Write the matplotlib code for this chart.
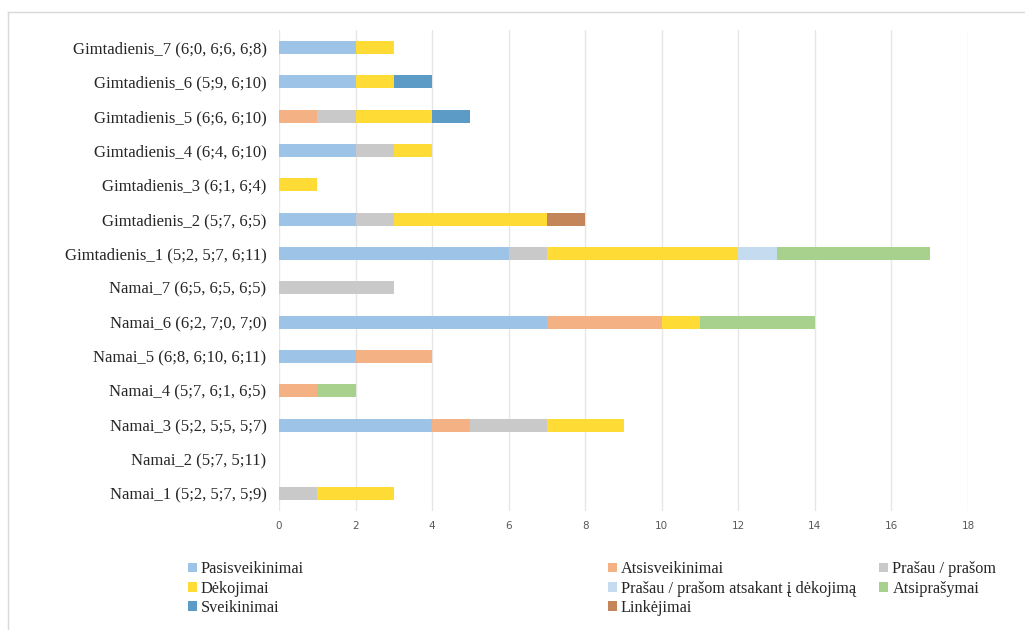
import numpy as np
import matplotlib
matplotlib.use("Agg")
import matplotlib.pyplot as plt
from matplotlib.lines import Line2D

categories = [
    "Namai_1 (5;2, 5;7, 5;9)",
    "Namai_2 (5;7, 5;11)",
    "Namai_3 (5;2, 5;5, 5;7)",
    "Namai_4 (5;7, 6;1, 6;5)",
    "Namai_5 (6;8, 6;10, 6;11)",
    "Namai_6 (6;2, 7;0, 7;0)",
    "Namai_7 (6;5, 6;5, 6;5)",
    "Gimtadienis_1 (5;2, 5;7, 6;11)",
    "Gimtadienis_2 (5;7, 6;5)",
    "Gimtadienis_3 (6;1, 6;4)",
    "Gimtadienis_4 (6;4, 6;10)",
    "Gimtadienis_5 (6;6, 6;10)",
    "Gimtadienis_6 (5;9, 6;10)",
    "Gimtadienis_7 (6;0, 6;6, 6;8)",
]

pasisveikinimai = [0, 0, 4, 0, 2, 7, 0, 6, 2, 0, 2, 0, 2, 2]
atsisveikinimai = [0, 0, 1, 1, 2, 3, 0, 0, 0, 0, 0, 1, 0, 0]
prasau = [1, 0, 2, 0, 0, 0, 3, 1, 1, 0, 1, 1, 0, 0]
dekojimai = [2, 0, 2, 0, 0, 1, 0, 5, 4, 1, 1, 2, 1, 1]
prasau_atsakant = [0, 0, 0, 0, 0, 0, 0, 1, 0, 0, 0, 0, 0, 0]
atsiprasymai = [0, 0, 0, 1, 0, 3, 0, 4, 0, 0, 0, 0, 0, 0]
sveikinimai = [0, 0, 0, 0, 0, 0, 0, 0, 0, 0, 0, 1, 1, 0]
linkejimai = [0, 0, 0, 0, 0, 0, 0, 0, 1, 0, 0, 0, 0, 0]

series = [
    ("Pasisveikinimai", pasisveikinimai, "#9DC3E6"),
    ("Atsisveikinimai", atsisveikinimai, "#F4B183"),
    ("Prašau / prašom", prasau, "#C9C9C9"),
    ("Dėkojimai", dekojimai, "#FFDC35"),
    ("Prašau / prašom atsakant į dėkojimą", prasau_atsakant, "#C5DCF0"),
    ("Atsiprašymai", atsiprasymai, "#A9D18E"),
    ("Sveikinimai", sveikinimai, "#5B9BC5"),
    ("Linkėjimai", linkejimai, "#C5855A"),
]

fig = plt.figure(figsize=(10.25, 6.3), dpi=100)
ax = fig.add_axes([0.2722, 0.189, 0.6722, 0.763])

y = np.arange(len(categories))
left = np.zeros(len(categories))
handles = {}
for name, vals, col in series:
    vals = np.array(vals, dtype=float)
    b = ax.barh(y, vals, left=left, height=0.38, color=col, label=name, zorder=3)
    handles[name] = b
    left += vals

ax.set_xlim(0, 18)
ax.set_ylim(-0.5, 13.5)
ax.set_xticks(np.arange(0, 19, 2))
ax.set_yticks(y)
ax.set_yticklabels(categories, fontfamily="Liberation Serif", fontsize=12, color="#262626")
ax.tick_params(axis="x", labelsize=7.5, colors="#595959", length=0, pad=7)
ax.tick_params(axis="y", length=0, pad=9)
for lab in ax.get_xticklabels():
    lab.set_fontfamily("DejaVu Sans")
ax.grid(axis="x", color="#E6E6E6", linewidth=1, zorder=0)
for s in ax.spines.values():
    s.set_visible(False)

# legend: three columns with uneven widths, like the Excel one
cols = [
    (0.183, ["Pasisveikinimai", "Dėkojimai", "Sveikinimai"]),
    (0.593, ["Atsisveikinimai", "Prašau / prašom atsakant į dėkojimą", "Linkėjimai"]),
    (0.858, ["Prašau / prašom", "Atsiprašymai"]),
]
for x0, names in cols:
    fig.legend([handles[n] for n in names], names, loc="upper left",
               bbox_to_anchor=(x0, 0.109), frameon=False, ncol=1,
               prop={"family": "Liberation Serif", "size": 11.7},
               handlelength=0.55, handleheight=0.55, handletextpad=0.25,
               labelspacing=0.2, borderpad=0, borderaxespad=0, labelcolor="#262626")

# faint outer frame of the chart area
fig.add_artist(Line2D([8 / 1025, 1], [1 - 12 / 630, 1 - 12 / 630], color="#D9D9D9", lw=1))
fig.add_artist(Line2D([8 / 1025, 8 / 1025], [0, 1 - 12 / 630], color="#D9D9D9", lw=1))

fig.savefig("out.png", dpi=100)
